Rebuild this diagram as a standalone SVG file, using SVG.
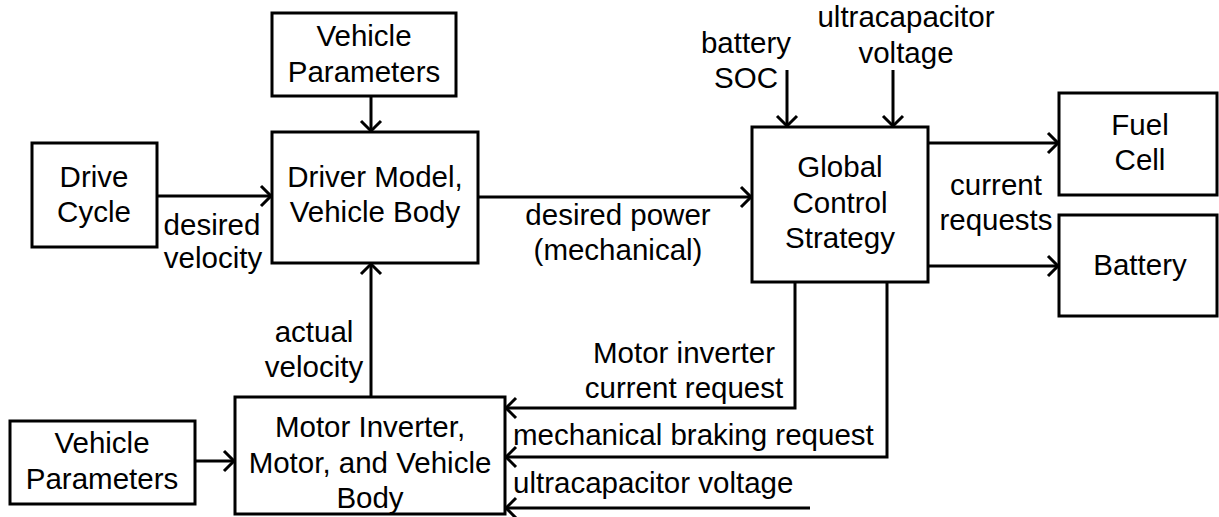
<svg xmlns="http://www.w3.org/2000/svg" width="1219" height="517" viewBox="0 0 1219 517">
<defs>
<marker id="ah" markerUnits="userSpaceOnUse" markerWidth="24" markerHeight="24" viewBox="-14 -12 16 24" refX="0" refY="0" orient="auto">
<path d="M-10,-10 L0,0 L-10,10" fill="none" stroke="#000" stroke-width="3"/>
</marker>
</defs>
<style>
.box{fill:#fff;stroke:#000;stroke-width:3}
.ln{fill:none;stroke:#000;stroke-width:3}
text{font-family:"Liberation Sans",Arial,sans-serif;font-size:29.5px;fill:#000;text-anchor:middle}
.st{text-anchor:start}
</style>
<rect width="1219" height="517" fill="#fff"/>
<g id="connectors">
<path class="ln" d="M371,96 V131" marker-end="url(#ah)"/>
<path class="ln" d="M157,196 H271" marker-end="url(#ah)"/>
<path class="ln" d="M478,197 H751" marker-end="url(#ah)"/>
<path class="ln" d="M787,70 V126" marker-end="url(#ah)"/>
<path class="ln" d="M893,70 V126" marker-end="url(#ah)"/>
<path class="ln" d="M928,143 H1058" marker-end="url(#ah)"/>
<path class="ln" d="M928,266 H1058" marker-end="url(#ah)"/>
<path class="ln" d="M371,397 V264" marker-end="url(#ah)"/>
<path class="ln" d="M195,461 H234" marker-end="url(#ah)"/>
<path class="ln" d="M795,282 V408 H506" marker-end="url(#ah)"/>
<path class="ln" d="M887,282 V457 H506" marker-end="url(#ah)"/>
<path class="ln" d="M810,508 H506" marker-end="url(#ah)"/>
<text x="212" y="235">desired</text>
<text x="213" y="268">velocity</text>
<text x="618" y="225">desired power</text>
<text x="618" y="260">(mechanical)</text>
<text x="746" y="53">battery</text>
<text x="746" y="88">SOC</text>
<text x="906" y="27">ultracapacitor</text>
<text x="906" y="63">voltage</text>
<text x="996" y="195">current</text>
<text x="996" y="230">requests</text>
<text x="314" y="342">actual</text>
<text x="314" y="377">velocity</text>
<text x="684" y="363">Motor inverter</text>
<text x="684" y="398">current request</text>
<text class="st" x="513" y="445">mechanical braking request</text>
<text class="st" x="513" y="493">ultracapacitor voltage</text>
</g>
<g id="vehicle-params-top">
<rect class="box" x="272" y="13" width="184" height="83"/>
<text x="364" y="46">Vehicle</text>
<text x="364" y="82">Parameters</text>
</g>
<g id="drive-cycle">
<rect class="box" x="32" y="143" width="125" height="104"/>
<text x="94" y="187">Drive</text>
<text x="94" y="222">Cycle</text>
</g>
<g id="driver-model">
<rect class="box" x="272" y="132" width="206" height="131"/>
<text x="375" y="187">Driver Model,</text>
<text x="375" y="222">Vehicle Body</text>
</g>
<g id="global-control">
<rect class="box" x="752" y="127" width="176" height="155"/>
<text x="840" y="177">Global</text>
<text x="840" y="213">Control</text>
<text x="840" y="248">Strategy</text>
</g>
<g id="fuel-cell">
<rect class="box" x="1059" y="93" width="158" height="102"/>
<text x="1140" y="135">Fuel</text>
<text x="1140" y="170">Cell</text>
</g>
<g id="battery">
<rect class="box" x="1059" y="215" width="158" height="101"/>
<text x="1140" y="275">Battery</text>
</g>
<g id="motor-inverter">
<rect class="box" x="235" y="397" width="270" height="117"/>
<text x="370" y="437">Motor Inverter,</text>
<text x="370" y="473">Motor, and Vehicle</text>
<text x="370" y="508">Body</text>
</g>
<g id="vehicle-params-bottom">
<rect class="box" x="10" y="421" width="185" height="83"/>
<text x="102" y="453">Vehicle</text>
<text x="102" y="489">Parameters</text>
</g>
</svg>
